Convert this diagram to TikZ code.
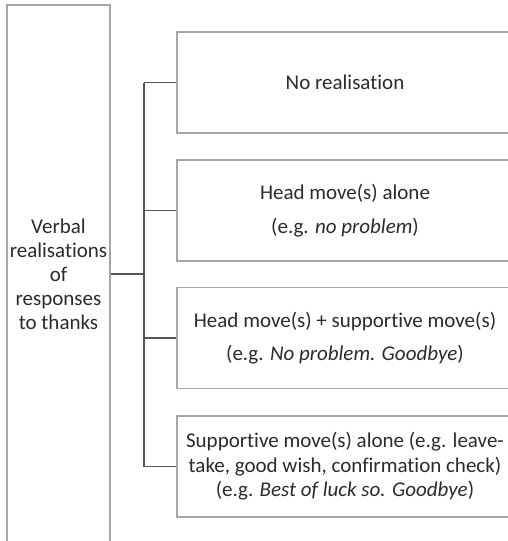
\documentclass[tikz,border=0pt]{standalone}
\usepackage{fontspec}
\setmainfont{Carlito}[Ligatures=NoCommon]
\usetikzlibrary{positioning}
\definecolor{Frame}{HTML}{A6A6A6}
\definecolor{Link}{HTML}{555555}
\definecolor{Ink}{HTML}{2B2B2B}

\begin{document}
\begin{tikzpicture}[
  x=1pt,y=-1pt,
  root/.style={draw=Frame,line width=1.3pt,minimum width=103pt,minimum height=538pt,inner sep=0pt,align=center,text=Ink,font=\fontsize{21}{24}\selectfont},
  kind/.style={draw=Frame,line width=1.3pt,minimum width=336pt,minimum height=101pt,inner sep=0pt,align=center,text=Ink,font=\fontsize{21}{24.5}\selectfont},
  link/.style={draw=Link,line width=1.3pt}
]
\useasboundingbox (0,0) rectangle (507,541);
\node[root] (verbal) at (58.5,274) {Verbal\\realisations\\of\\responses\\to thanks};
\node[kind] (none) at (345,82.5) {No realisation};
\node[kind] (head) at (345,210.5) {Head move(s) alone\\[9pt](e.g. \textit{no problem})};
\node[kind] (both) at (345,338) {Head move(s) + supportive move(s)\\[9pt](e.g. \textit{No problem. Goodbye})};
\node[kind] (supp) at (345,466.5) {Supportive move(s) alone (e.g. leave-\\take, good wish, confirmation check)\\(e.g. \textit{Best of luck so. Goodbye})};
\coordinate (spine) at (144,274);
\draw[link] (verbal.east |- spine) -- (spine);
\draw[link] (spine |- none.west) -- (spine |- supp.west);
\draw[link] (spine |- none.west) -- (none.west);
\draw[link] (spine |- head.west) -- (head.west);
\draw[link] (spine |- both.west) -- (both.west);
\draw[link] (spine |- supp.west) -- (supp.west);
\end{tikzpicture}
\end{document}
